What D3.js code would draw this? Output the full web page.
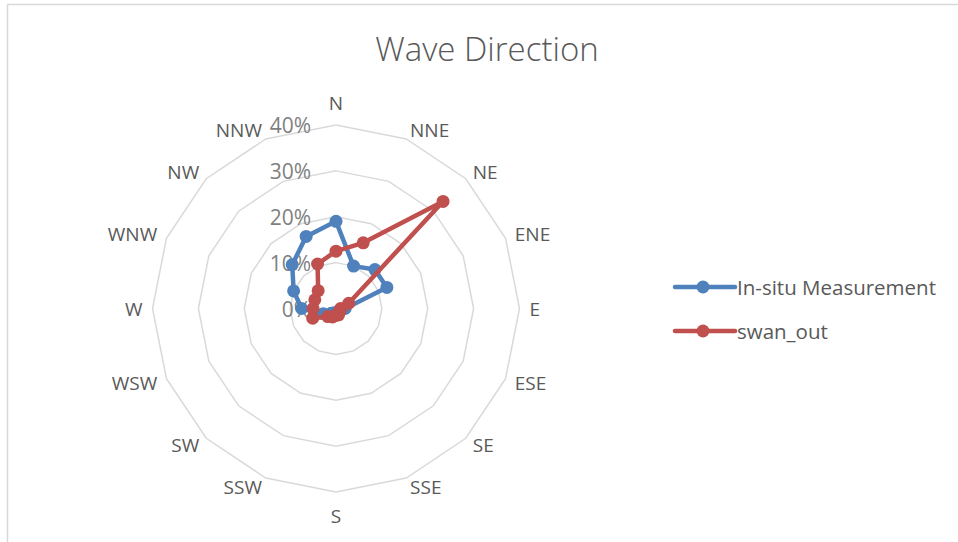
<!DOCTYPE html>
<html>
<head>
<meta charset="utf-8">
<script src="https://cdn.jsdelivr.net/npm/d3@7"></script>
<style>
  html, body { margin: 0; padding: 0; background: #fff; }
  svg { display: block; font-family: "Open Sans", "Liberation Sans", sans-serif; }
</style>
</head>
<body>
<svg id="chart" width="958" height="542"></svg>
<script>
// Compass sectors, clockwise from north
const directions = ["N", "NNE", "NE", "ENE", "E", "ESE", "SE", "SSE",
                    "S", "SSW", "SW", "WSW", "W", "WNW", "NW", "NNW"];

// Share of records per direction sector
const inSitu  = [0.19, 0.10, 0.12, 0.12, 0.02, 0.01, 0.01, 0.01,
                 0.01, 0.01, 0.015, 0.03, 0.075, 0.10, 0.135, 0.17];
const swanOut = [0.125, 0.155, 0.33, 0.03, 0.01, 0.01, 0.01, 0.015,
                 0.015, 0.02, 0.025, 0.055, 0.05, 0.05, 0.055, 0.105];

const radialTicks = [0, 0.1, 0.2, 0.3, 0.4];

const seriesNames  = ["In-situ Measurement", "swan_out"];
const seriesColors = ["#4F81BD", "#C0504D"];
const chartTitle   = "Wave Direction";

const svg = d3.select("#chart");
const W = 958, H = 542;
const cx = 336, cy = 308.5, R = 183.5;

// chart area frame
svg.append("rect")
  .attr("x", 7.5).attr("y", 4.5)
  .attr("width", W + 20).attr("height", H + 20)
  .attr("fill", "#fff").attr("stroke", "#d9d9d9").attr("stroke-width", 1.5);

// title
svg.append("text")
  .attr("x", 487).attr("y", 48)
  .attr("text-anchor", "middle").attr("dominant-baseline", "central")
  .attr("fill", "#595959")
  .style("font-size", "33px").style("font-weight", 300)
  .text(chartTitle);

const r = d3.scaleLinear().domain([0, 0.4]).range([0, R]);
const step = 2 * Math.PI / directions.length;
const angle = d3.scalePoint().domain(directions).range([0, 2 * Math.PI - step]);

const g = svg.append("g").attr("transform", `translate(${cx},${cy})`);

// ring grid
const ringLine = d3.lineRadial()
  .angle(d => angle(d.dir))
  .radius(d => r(d.v))
  .curve(d3.curveLinearClosed);

g.append("g").selectAll("path")
  .data(radialTicks.filter(t => t > 0))
  .join("path")
  .attr("d", t => ringLine(directions.map(dir => ({ dir, v: t }))))
  .attr("fill", "none")
  .attr("stroke", "#d9d9d9")
  .attr("stroke-width", 1.5);

// radial tick labels along the north spoke
g.append("g").selectAll("text")
  .data(radialTicks)
  .join("text")
  .attr("x", -25)
  .attr("y", t => -r(t))
  .attr("text-anchor", "end")
  .attr("dominant-baseline", "central")
  .attr("fill", "#7f7f7f")
  .style("font-size", "21px")
  .text(d3.format(".0%"));

// direction labels
const labR = R + 10;
g.append("g").selectAll("text")
  .data(directions)
  .join("text")
  .each(function (d) {
    const a = angle(d);
    const s = Math.sin(a), c = Math.cos(a);
    let x = labR * s, y = -labR * c;
    let anchor = "middle";
    if (s > 0.1) anchor = "start";
    else if (s < -0.1) anchor = "end";
    if (Math.abs(s) <= 0.1) y += (c > 0 ? -12 : 14);
    d3.select(this)
      .attr("x", x).attr("y", y)
      .attr("text-anchor", anchor)
      .attr("dominant-baseline", "central");
  })
  .attr("fill", "#595959")
  .style("font-size", "19px")
  .text(d => d);

// data series
const series = [inSitu, swanOut];
series.forEach((vals, i) => {
  const pts = directions.map((dir, k) => ({ dir, v: vals[k] }));
  const sg = g.append("g");
  sg.append("path")
    .attr("d", ringLine(pts))
    .attr("fill", "none")
    .attr("stroke", seriesColors[i])
    .attr("stroke-width", 4.5)
    .attr("stroke-linejoin", "round");
  sg.selectAll("circle")
    .data(pts)
    .join("circle")
    .attr("cx", d => r(d.v) * Math.sin(angle(d.dir)))
    .attr("cy", d => -r(d.v) * Math.cos(angle(d.dir)))
    .attr("r", 6.5)
    .attr("fill", seriesColors[i]);
});

// legend
const legend = svg.append("g").attr("transform", "translate(675,287)");
seriesNames.forEach((name, i) => {
  const lg = legend.append("g").attr("transform", `translate(0,${i * 44})`);
  lg.append("line")
    .attr("x1", 0).attr("x2", 60).attr("y1", 0).attr("y2", 0)
    .attr("stroke", seriesColors[i]).attr("stroke-width", 4.5)
    .attr("stroke-linecap", "round");
  lg.append("circle").attr("cx", 28).attr("cy", 0).attr("r", 6.5)
    .attr("fill", seriesColors[i]);
  lg.append("text")
    .attr("x", 62).attr("y", 0)
    .attr("dominant-baseline", "central")
    .attr("fill", "#595959")
    .style("font-size", "20.5px")
    .text(name);
});
</script>
</body>
</html>
